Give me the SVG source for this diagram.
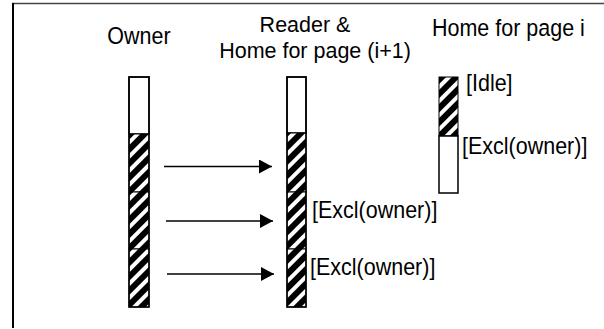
<svg xmlns="http://www.w3.org/2000/svg" width="604" height="329" viewBox="0 0 604 329">
  <defs>
    <!-- diagonal black/white hatching for busy intervals -->
    <pattern id="hatch" patternUnits="userSpaceOnUse" width="10" height="10" patternTransform="rotate(45)">
      <rect x="0" y="0" width="10" height="10" fill="#000"/>
      <rect x="0" y="0" width="4" height="10" fill="#fff"/>
    </pattern>
    <marker id="arrowhead" markerUnits="userSpaceOnUse" markerWidth="14" markerHeight="14" refX="13" refY="7" orient="auto">
      <path d="M0,0 L13,7 L0,14 Z" fill="#000"/>
    </marker>
  </defs>
  <style>
    .lbl { font-family: "Liberation Sans", Arial, sans-serif; font-size: 21.5px; fill: #000; }
    .mid { text-anchor: middle; }
    .idle { fill: #fff; stroke: #000; stroke-width: 1.5; }
    .busy { fill: url(#hatch); stroke: #000; stroke-width: 1; }
    .edge { stroke: #000; stroke-width: 1.5; fill: none; marker-end: url(#arrowhead); }
  </style>

  <rect width="604" height="329" fill="#fff"/>
  <!-- frame -->
  <line x1="12" y1="3.5" x2="604" y2="3.5" stroke="#444" stroke-width="1.5"/>
  <line x1="13" y1="3" x2="13" y2="328" stroke="#000" stroke-width="2"/>

  <g id="owner">
    <text class="lbl mid" transform="translate(139,44) scale(1,1.12)">Owner</text>
    <rect class="idle" x="129" y="77" width="20" height="57"/>
    <rect class="busy" x="129" y="134" width="20" height="58"/>
    <rect class="busy" x="129" y="192" width="20" height="57"/>
    <rect class="busy" x="129" y="249" width="20" height="58"/>
    <rect x="129" y="77" width="20" height="230" fill="none" stroke="#000" stroke-width="1.5"/>
  </g>

  <g id="reader">
    <text class="lbl mid" transform="translate(305,32) scale(1,1.06)">Reader &amp;</text>
    <text class="lbl mid" transform="translate(315,58) scale(1,1.06)">Home for page (i+1)</text>
    <rect class="idle" x="287" y="77" width="19" height="56"/>
    <rect class="busy" x="287" y="133" width="19" height="59"/>
    <rect class="busy" x="287" y="192" width="19" height="57"/>
    <rect class="busy" x="287" y="249" width="19" height="58"/>
    <rect x="287" y="77" width="19" height="230" fill="none" stroke="#000" stroke-width="1.5"/>
    <text class="lbl" transform="translate(312,218) scale(1,1.12)">[Excl(owner)]</text>
    <text class="lbl" transform="translate(310,275) scale(1,1.12)">[Excl(owner)]</text>
  </g>

  <g id="home-i">
    <text class="lbl" transform="translate(432,36) scale(1,1.12)">Home for page i</text>
    <rect class="busy" x="439" y="77" width="19" height="59"/>
    <rect class="idle" x="439" y="136" width="19" height="57"/>
    <text class="lbl" transform="translate(466,91) scale(1,1.12)">[Idle]</text>
    <text class="lbl" transform="translate(462,154) scale(1,1.12)">[Excl(owner)]</text>
  </g>

  <g id="connectors">
    <line class="edge" x1="164" y1="166.5" x2="272" y2="166.5"/>
    <line class="edge" x1="166" y1="221" x2="273" y2="221"/>
    <line class="edge" x1="167" y1="274" x2="274" y2="274"/>
  </g>
</svg>
